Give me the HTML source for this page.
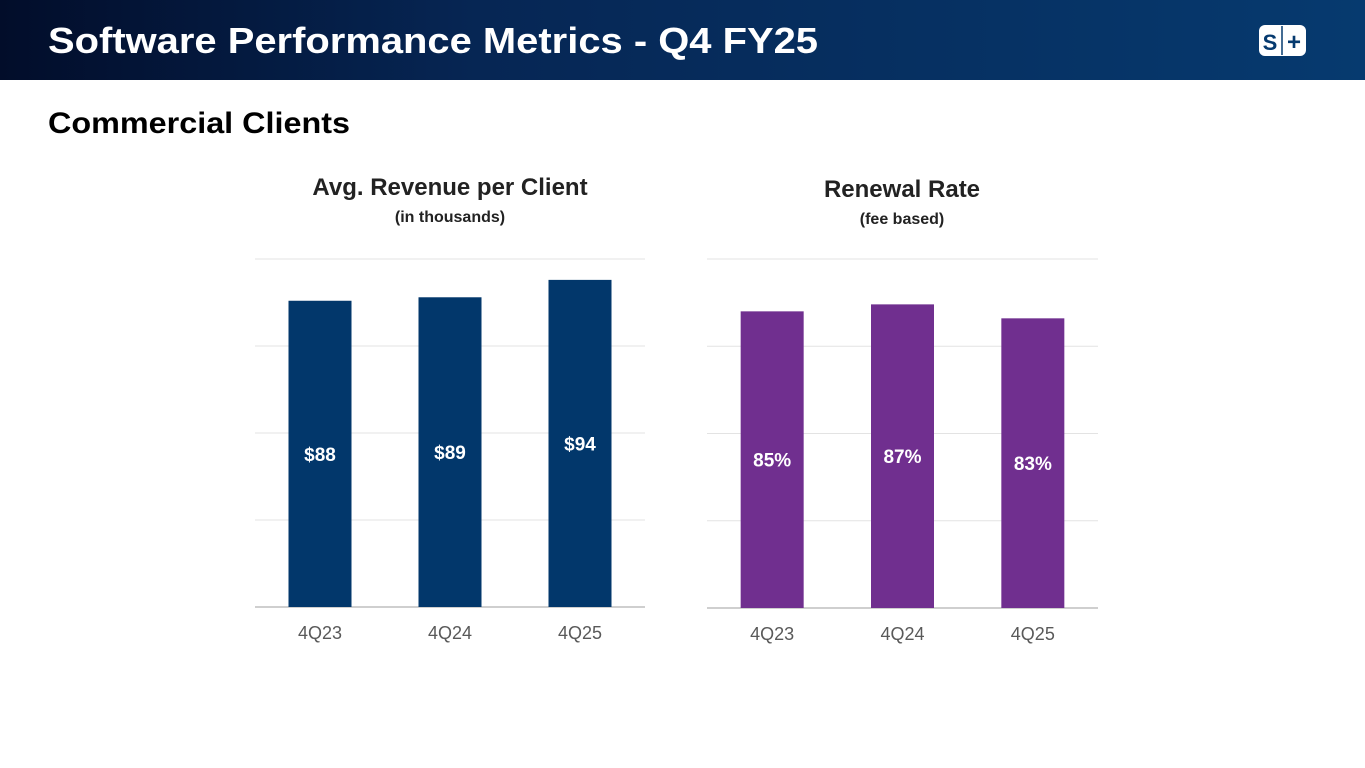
<!DOCTYPE html>
<html><head><meta charset="utf-8"><style>
html,body{margin:0;padding:0;background:#fff;}
svg{display:block;font-family:"Liberation Sans",Arial,sans-serif;}
</style></head><body>
<svg id="s" width="1365" height="768" viewBox="0 0 1365 768">
<defs>
<linearGradient id="hg" x1="0" x2="1" y1="0" y2="0">
<stop offset="0" stop-color="#020d2a"/><stop offset="0.35" stop-color="#062654"/><stop offset="1" stop-color="#063a6f"/>
</linearGradient>
</defs>
<rect x="0" y="0" width="1365" height="80" fill="url(#hg)"/>
<text x="48" y="53" fill="#fff" font-size="36" font-weight="bold" textLength="770" lengthAdjust="spacingAndGlyphs">Software Performance Metrics - Q4 FY25</text>
<g>
<rect x="1259" y="25" width="47" height="31" rx="6" fill="#fff"/>
<line x1="1282" y1="26" x2="1282" y2="55" stroke="#063a6f" stroke-width="1.5"/>
<text x="1270" y="50" font-size="22" font-weight="bold" fill="#063a6f" text-anchor="middle">S</text>
<text x="1294" y="50" font-size="24" font-weight="bold" fill="#063a6f" text-anchor="middle">+</text>
</g>
<text x="48" y="133" font-size="30" font-weight="bold" fill="#000" textLength="302" lengthAdjust="spacingAndGlyphs">Commercial Clients</text>
<g id="c1"></g>
<g id="c2"></g>
</svg>
<script>
const categories = ["4Q23","4Q24","4Q25"];
const revenueValues = [88, 89, 94];
const revenueLabels = ["$88","$89","$94"];
const renewalValues = [85, 87, 83];
const renewalLabels = ["85%","87%","83%"];
const axisMax = 100;
const gridTicks = [0, 25, 50, 75, 100];
const NS = "http://www.w3.org/2000/svg";
function mk(parent, tag, attrs, text){
  const e = document.createElementNS(NS, tag);
  for (const k in attrs) e.setAttribute(k, attrs[k]);
  if (text !== undefined) e.textContent = text;
  parent.appendChild(e);
  return e;
}
function drawChart(gid, cfg){
  const g = document.getElementById(gid);
  const y = v => cfg.base - (v / axisMax) * (cfg.base - cfg.top);
  const step = (cfg.right - cfg.left) / categories.length;
  const x = i => cfg.left + step * (i + 0.5);
  const t1 = mk(g, "text", {x: cfg.titleX, y: cfg.titleY, "font-size": 24, "font-weight": "bold", fill: "#222", "text-anchor": "middle"}, cfg.title);
  
  
  const t2 = mk(g, "text", {x: cfg.titleX, y: cfg.titleY + 27, "font-size": 16, "font-weight": "bold", fill: "#222", "text-anchor": "middle"}, cfg.sub);
  
  
  gridTicks.forEach(t => {
    const l = mk(g, "line", {x1: cfg.left, x2: cfg.right, y1: y(t), y2: y(t), stroke: t === 0 ? "#bfbfbf" : "#e3e3e3", "stroke-width": t === 0 ? 1.5 : 1});
    
    
  });
  cfg.values.forEach((v, i) => {
    const bw = 63;
    const r = mk(g, "rect", {x: x(i) - bw / 2, y: y(v), width: bw, height: cfg.base - y(v), fill: cfg.color});
    
    
    const lb = mk(g, "text", {x: x(i), y: (y(v) + cfg.base) / 2 + 7, "font-size": 19, "font-weight": "bold", fill: "#fff", "text-anchor": "middle"}, cfg.labels[i]);
    
    
    const c = mk(g, "text", {x: x(i), y: cfg.base + 32, "font-size": 18, fill: "#595959", "text-anchor": "middle"}, categories[i]);
    
    
  });
}
drawChart("c1", {left: 255, right: 645, top: 259, base: 607, color: "#02376b", values: revenueValues, labels: revenueLabels, title: "Avg. Revenue per Client", sub: "(in thousands)", titleX: 450, titleY: 195});
drawChart("c2", {left: 707, right: 1098, top: 259, base: 608, color: "#702f8f", values: renewalValues, labels: renewalLabels, title: "Renewal Rate", sub: "(fee based)", titleX: 902, titleY: 197});
</script>
</body></html>
